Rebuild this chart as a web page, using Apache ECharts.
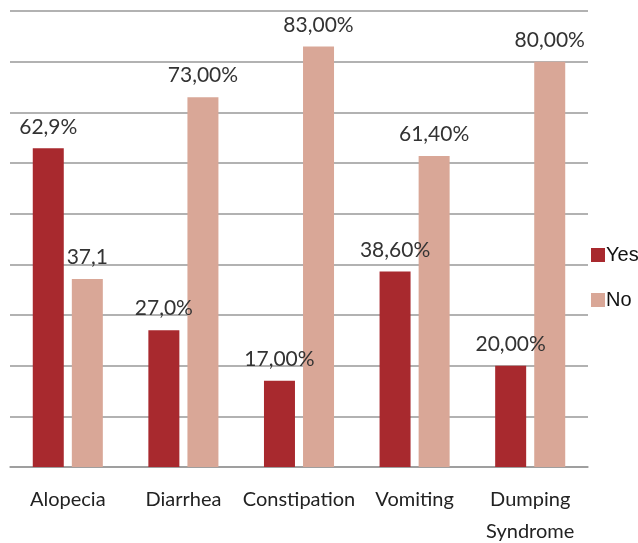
<!DOCTYPE html>
<html>
<head>
<meta charset="utf-8">
<script src="https://cdn.jsdelivr.net/npm/echarts@6/dist/echarts.min.js"></script>
<style>
  html, body { margin: 0; padding: 0; background: #fff; }
  #chart { width: 638px; height: 543px; }
</style>
</head>
<body>
<div id="chart"></div>
<script>
const categories = ['Alopecia', 'Diarrhea', 'Constipation', 'Vomiting', 'Dumping\nSyndrome'];
const yesValues = [62.9, 27.0, 17.0, 38.6, 20.0];
const noValues = [37.1, 73.0, 83.0, 61.4, 80.0];
// labels as printed on the original figure
const yesLabels = ['62,9%', '27,0%', '17,00%', '38,60%', '20,00%'];
const noLabels = ['37,1', '73,00%', '83,00%', '61,40%', '80,00%'];

const chart = echarts.init(document.getElementById('chart'));

const labelStyle = (texts) => ({
    show: true,
    position: 'top',
    distance: 11,
    fontFamily: 'Lato, sans-serif',
    fontSize: 21,
    color: '#333',
    formatter: p => texts[p.dataIndex]
});

chart.setOption({
    animation: false,
    grid: { left: 10, right: 50, top: 11, bottom: 76, outerBoundsMode: 'none' },
    legend: {
        orient: 'vertical',
        left: 586,
        top: 240,
        icon: 'rect',
        itemWidth: 14,
        itemHeight: 14,
        itemGap: 25,
        textStyle: { fontFamily: 'Liberation Sans, Arial, sans-serif', fontSize: 20, color: '#111', padding: [0, 0, 0, -4] },
        data: ['Yes', 'No']
    },
    xAxis: {
        type: 'category',
        data: categories,
        axisLine: { lineStyle: { color: '#999', width: 1.5 } },
        axisTick: { show: false },
        axisLabel: {
            margin: 17,
            fontFamily: 'Lato, sans-serif',
            fontSize: 20,
            color: '#222',
            lineHeight: 32,
            interval: 0
        }
    },
    yAxis: {
        type: 'value',
        min: 0,
        max: 90,
        interval: 10,
        axisLabel: { show: false },
        axisLine: { show: false },
        axisTick: { show: false },
        splitLine: { lineStyle: { color: '#999', width: 1.5 } }
    },
    series: [
        {
            name: 'Yes',
            type: 'bar',
            data: yesValues,
            barWidth: 31,
            barGap: '26%',
            itemStyle: { color: '#A8292E' },
            label: labelStyle(yesLabels)
        },
        {
            name: 'No',
            type: 'bar',
            data: noValues,
            barWidth: 31,
            itemStyle: { color: '#D9A797' },
            label: labelStyle(noLabels)
        }
    ]
});
</script>
</body>
</html>
